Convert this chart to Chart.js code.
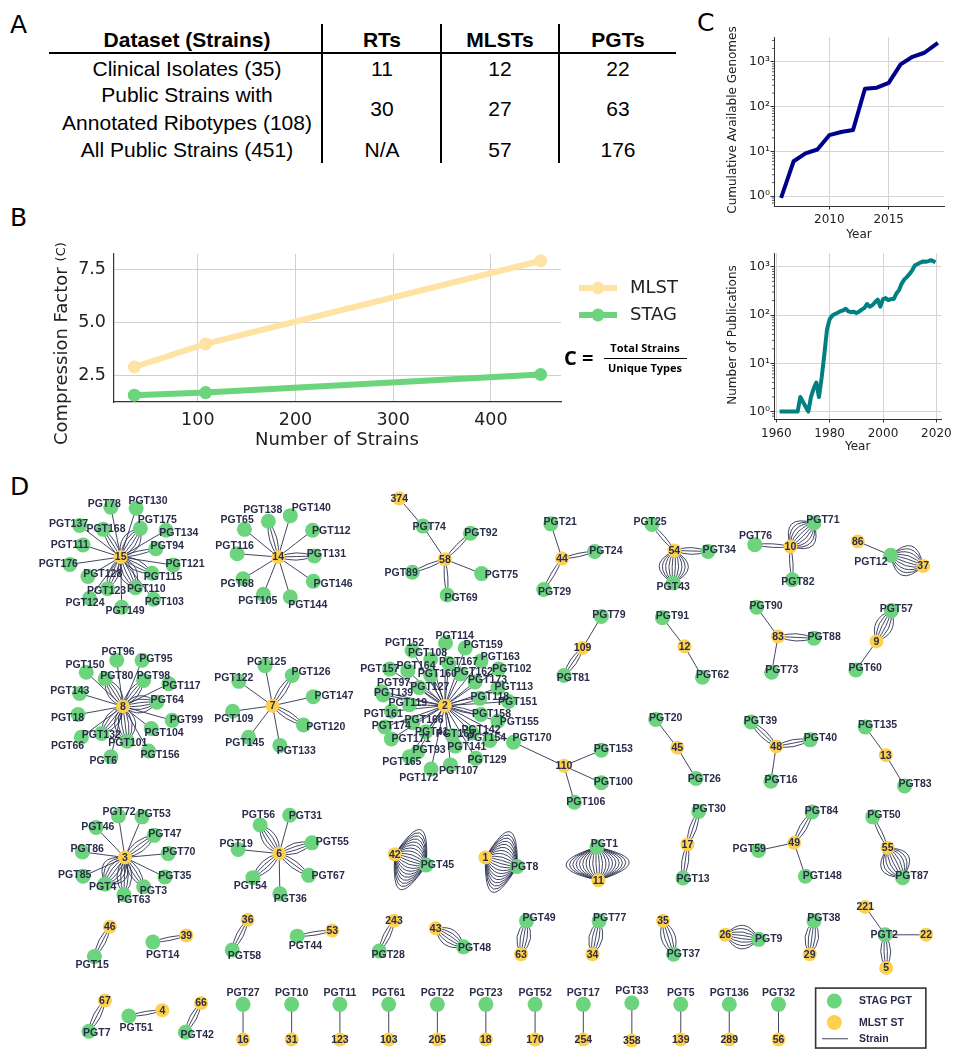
<!DOCTYPE html>
<html>
<head>
<meta charset="utf-8">
<title>Strain typing summary</title>
<script src="https://cdn.jsdelivr.net/npm/chart.js@4.4.1/dist/chart.umd.min.js"></script>
<style>
  html, body { margin: 0; padding: 0; background: #fff; }
  body { width: 956px; height: 1057px; position: relative; overflow: hidden; font-family: "DejaVu Sans", sans-serif; }
  canvas { position: absolute; }
  .letter { position: absolute; font-family: "DejaVu Sans", sans-serif; font-size: 25px; line-height: 25px; color: #000; }
  .cell { position: absolute; transform: translate(-50%, -50%); font-family: "Liberation Sans", Arial, sans-serif;
          font-size: 21px; line-height: 28px; color: #000; white-space: pre; text-align: center; }
  .hdr { font-weight: bold; }
  .rule { position: absolute; background: #000; }
</style>
</head>
<body>
<div class="letter" style="left:10px;top:12px">A</div>
<div class="letter" style="left:10px;top:205px">B</div>
<div class="letter" style="left:697px;top:10px">C</div>
<div class="letter" style="left:10px;top:474px">D</div>

<canvas id="cB" width="700" height="260" style="left:0px;top:195px"></canvas>
<canvas id="cGen" width="266" height="250" style="left:690px;top:0px"></canvas>
<canvas id="cPub" width="266" height="215" style="left:690px;top:245px"></canvas>
<canvas id="cNet" width="956" height="592" style="left:0px;top:465px"></canvas>

<script>
// ---------------- Panel A / B data: typing summary per dataset ----------------
const tableHeaders  = ['Dataset (Strains)', 'RTs', 'MLSTs', 'PGTs'];
const datasetNames  = ['Clinical Isolates', 'Public Strains with\nAnnotated Ribotypes', 'All Public Strains'];
const strainCounts  = [35, 108, 451];
const rtCounts      = [11, 30, null];
const mlstCounts    = [12, 27, 57];
const pgtCounts     = [22, 63, 176];

// ---------------- Panel C data ----------------
const genomeYears  = [2006, 2007, 2008, 2009, 2010, 2011, 2012, 2013, 2014, 2015, 2016, 2017, 2018, 2019];
const genomeCounts = [1, 6, 9, 11, 23, 27, 30, 250, 265, 340, 880, 1300, 1600, 2500];

const pubYears  = [1962, 1963, 1964, 1965, 1966, 1967, 1968, 1969, 1972, 1973, 1974, 1975, 1976, 1977, 1978, 1979,
                   1980, 1981, 1982, 1983, 1984, 1985, 1986, 1987, 1988, 1989, 1990, 1991, 1992, 1993, 1994, 1995,
                   1996, 1997, 1998, 1999, 2000, 2001, 2002, 2003, 2004, 2005, 2006, 2007, 2008, 2009, 2010, 2011,
                   2012, 2013, 2014, 2015, 2016, 2017, 2018, 2019];
const pubCounts = [1, 1, 1, 1, 1, 1, 1, 2, 1, 2, 3, 4, 2, 5, 15, 50,
                   82, 98, 105, 112, 120, 125, 135, 120, 115, 118, 110, 118, 130, 140, 170, 150,
                   160, 185, 210, 150, 215, 225, 205, 215, 215, 280, 330, 450, 550, 620, 720, 860,
                   1080, 1150, 1230, 1300, 1280, 1320, 1380, 1300];

// tick labels
const bTicksX = [100, 200, 300, 400];
const bTicksY = [2.5, 5.0, 7.5];
const genTicksX = [2010, 2015];
const pubTicksX = [1960, 1980, 2000, 2020];
const logTicks = [1, 10, 100, 1000];

// ---------------- Panel D data: strains linking STAG PGTs to MLST STs ----------------
// [PGT, MLST ST, number of strains]
const strainEdges = [
  ['PGT78','15',1],['PGT130','15',1],['PGT175','15',6],['PGT134','15',1],['PGT94','15',2],['PGT121','15',1],
  ['PGT115','15',4],['PGT103','15',1],['PGT110','15',6],['PGT149','15',1],['PGT123','15',4],['PGT124','15',1],
  ['PGT128','15',1],['PGT176','15',1],['PGT111','15',1],['PGT137','15',1],['PGT168','15',3],
  ['PGT138','14',3],['PGT140','14',1],['PGT65','14',1],['PGT112','14',1],['PGT116','14',1],['PGT131','14',3],
  ['PGT68','14',1],['PGT146','14',1],['PGT105','14',1],['PGT144','14',1],
  ['PGT74','374',1],['PGT74','58',1],['PGT92','58',2],['PGT89','58',2],['PGT75','58',1],['PGT69','58',2],
  ['PGT21','44',1],['PGT24','44',2],['PGT29','44',2],
  ['PGT25','54',2],['PGT34','54',3],['PGT43','54',10],
  ['PGT76','10',2],['PGT71','10',10],['PGT82','10',2],
  ['PGT12','86',1],['PGT12','37',10],
  ['PGT96','8',1],['PGT95','8',1],['PGT150','8',1],['PGT80','8',5],['PGT98','8',4],['PGT117','8',1],
  ['PGT143','8',1],['PGT64','8',6],['PGT18','8',1],['PGT99','8',1],['PGT104','8',1],['PGT132','8',5],
  ['PGT66','8',1],['PGT101','8',7],['PGT156','8',1],['PGT6','8',1],
  ['PGT125','7',1],['PGT126','7',3],['PGT122','7',1],['PGT147','7',1],['PGT109','7',1],['PGT120','7',3],
  ['PGT145','7',1],['PGT133','7',1],
  ['PGT114','2',1],['PGT159','2',1],['PGT152','2',1],['PGT108','2',1],['PGT163','2',1],['PGT167','2',1],
  ['PGT102','2',1],['PGT157','2',1],['PGT164','2',1],['PGT160','2',2],['PGT162','2',1],['PGT173','2',1],
  ['PGT113','2',1],['PGT97','2',1],['PGT127','2',2],['PGT139','2',1],['PGT118','2',2],['PGT151','2',1],
  ['PGT119','2',1],['PGT161','2',1],['PGT158','2',2],['PGT155','2',1],['PGT166','2',1],['PGT174','2',1],
  ['PGT142','2',1],['PGT41','2',1],['PGT169','2',1],['PGT171','2',1],['PGT154','2',1],['PGT93','2',1],
  ['PGT141','2',1],['PGT165','2',1],['PGT129','2',1],['PGT107','2',1],['PGT172','2',1],['PGT170','2',1],
  ['PGT170','110',1],['PGT153','110',1],['PGT100','110',1],['PGT106','110',1],
  ['PGT79','109',1],['PGT81','109',3],
  ['PGT91','12',1],['PGT62','12',1],
  ['PGT90','83',1],['PGT88','83',3],['PGT73','83',1],
  ['PGT57','9',6],['PGT60','9',1],
  ['PGT20','45',1],['PGT26','45',1],
  ['PGT39','48',3],['PGT40','48',3],['PGT16','48',1],
  ['PGT135','13',1],['PGT83','13',1],
  ['PGT72','3',1],['PGT53','3',1],['PGT46','3',1],['PGT47','3',4],['PGT86','3',1],['PGT70','3',1],
  ['PGT85','3',1],['PGT35','3',1],['PGT4','3',9],['PGT3','3',4],['PGT63','3',5],
  ['PGT56','6',5],['PGT31','6',1],['PGT19','6',1],['PGT55','6',4],['PGT67','6',3],['PGT54','6',4],['PGT36','6',1],
  ['PGT45','42',20],['PGT8','1',20],['PGT1','11',20],
  ['PGT30','17',3],['PGT13','17',3],
  ['PGT84','49',3],['PGT59','49',1],['PGT148','49',1],
  ['PGT50','55',2],['PGT87','55',10],
  ['PGT15','46',3],['PGT14','39',2],['PGT58','36',3],['PGT44','53',2],['PGT28','243',3],['PGT48','43',6],
  ['PGT49','63',5],['PGT77','34',5],['PGT37','35',5],['PGT9','26',8],['PGT38','29',5],
  ['PGT2','221',1],['PGT2','22',1],['PGT2','5',4],
  ['PGT7','67',3],['PGT51','4',2],['PGT42','66',3],
  ['PGT27','16',1],['PGT10','31',1],['PGT11','123',1],['PGT61','103',1],['PGT22','205',1],['PGT23','18',1],
  ['PGT52','170',1],['PGT17','254',1],['PGT33','358',1],['PGT5','139',1],['PGT136','289',1],['PGT32','56',1]
];

// Network layout (figure coordinates) for every node, and for each PGT label.
const nodeXY = {
  '15':[115,551.7],'PGT78':[105,500.7],'PGT130':[130.7,501.7],'PGT175':[135,522.3],'PGT134':[161,524.3],
  'PGT94':[150.7,543.3],'PGT121':[168.3,560],'PGT115':[146.7,568.3],'PGT103':[148.3,595],'PGT110':[130,583.3],
  'PGT149':[116,603.3],'PGT123':[101.7,584.3],'PGT124':[83.3,594],'PGT128':[81.7,571.7],'PGT176':[63.3,559.3],
  'PGT111':[76.7,539.3],'PGT137':[73.3,519.3],'PGT168':[97.3,523.3],
  '14':[275,551.7],'PGT138':[265,515],'PGT140':[287.3,509.3],'PGT65':[240.7,523.3],'PGT112':[310,524.3],
  'PGT116':[233.3,548.3],'PGT131':[311.7,550.7],'PGT68':[239.3,574],'PGT146':[310.7,576.7],'PGT105':[260,590],
  'PGT144':[287.3,592.7],
  '58':[444.4,554],'374':[398,491.7],'PGT74':[422,520],'PGT92':[470.3,527.3],'PGT89':[411.3,567.3],
  'PGT75':[481.7,568.7],'PGT69':[446.7,590.7],
  '44':[563.4,553.3],'PGT21':[552,517.7],'PGT24':[596.5,546],'PGT29':[544.8,585],
  '54':[677.5,545],'PGT25':[654.7,518.3],'PGT34':[711.7,546],'PGT43':[676.3,578.3],
  '10':[795.4,541],'PGT76':[759.2,539],'PGT71':[819.3,516.7],'PGT82':[797.3,575],
  'PGT12':[897.3,550],'86':[863.8,535.7],'37':[930.3,561],
  '8':[117.3,705],'PGT96':[111,657.7],'PGT95':[136.7,657.7],'PGT150':[80,670],'PGT80':[99.3,676.7],
  'PGT98':[138.3,678.3],'PGT117':[164,681.7],'PGT143':[73.3,691.7],'PGT64':[151.7,700.7],'PGT18':[71.7,713.3],
  'PGT99':[167.3,719.3],'PGT104':[146,727.7],'PGT132':[95.7,732.7],'PGT66':[75,736.7],'PGT101':[121.7,740.7],
  'PGT156':[143.3,750.7],'PGT6':[105,756.7],
  '7':[269.3,704.3],'PGT125':[261.7,663.3],'PGT126':[289.3,673.3],'PGT122':[235,679.3],'PGT147':[310.7,695],
  'PGT109':[228.7,710],'PGT120':[300.7,724],'PGT145':[245,736.7],'PGT133':[276.7,745],
  '2':[444.3,704.3],'PGT114':[445,640],'PGT159':[465,645],'PGT152':[411,647.7],'PGT108':[430,656.7],
  'PGT163':[481,658.3],'PGT167':[448.3,661],'PGT102':[499,666.7],'PGT157':[388.3,666.7],'PGT164':[406.7,668.3],
  'PGT160':[430,673.3],'PGT162':[460,671.7],'PGT173':[475,680],'PGT113':[498.3,686],'PGT97':[380,690],
  'PGT127':[418.3,685.7],'PGT139':[381.7,693.3],'PGT118':[480,696.7],'PGT151':[509,700],'PGT119':[408.3,703.3],
  'PGT161':[390,710],'PGT158':[481,713.3],'PGT155':[498.3,720],'PGT166':[411.7,721.7],'PGT174':[383.3,726],
  'PGT142':[471.7,732.3],'PGT41':[425,731],'PGT169':[452,735],'PGT171':[390,738.3],'PGT154':[490,740],
  'PGT93':[416.7,751.7],'PGT141':[455,745.7],'PGT165':[408.3,756.7],'PGT129':[475.7,758.3],'PGT107':[450,765],
  'PGT172':[430.3,769.3],'PGT170':[514,741.7],
  '110':[565.3,766],'PGT153':[603.3,750],'PGT100':[603.3,783.3],'PGT106':[576,803.3],
  '109':[584.3,645],'PGT79':[603.3,612.7],'PGT81':[565.3,673.3],
  '12':[687.8,643.3],'PGT91':[665.3,614],'PGT62':[706,675],
  '83':[782.8,633.3],'PGT90':[761.1,603.3],'PGT88':[819.3,635],'PGT73':[776.3,670],
  '9':[882.8,638.3],'PGT57':[898,606.7],'PGT60':[861.9,667.7],
  '45':[680.5,747.3],'PGT20':[658.5,718.3],'PGT26':[699.5,779],
  '48':[780.9,746],'PGT39':[755.4,721],'PGT40':[815.5,739.3],'PGT16':[775.6,781.7],
  '13':[892.3,755],'PGT135':[871.4,726],'PGT83':[911.3,786.7],
  '3':[119.3,860],'PGT72':[112.7,817.3],'PGT53':[136.7,818.3],'PGT46':[90,829.3],'PGT47':[149,837.3],
  'PGT86':[76,854.3],'PGT70':[163.3,856],'PGT85':[76.7,879.3],'PGT35':[160,880],'PGT4':[99,887.3],
  'PGT3':[138.3,890],'PGT63':[118.3,898.3],
  '6':[276,856],'PGT56':[256.7,826.7],'PGT31':[286.7,816.7],'PGT19':[234.3,851.7],'PGT55':[309.3,845],
  'PGT67':[306,878.3],'PGT54':[249.3,880.7],'PGT36':[276.7,897.3],
  '42':[393.5,856.7],'PGT45':[425.4,867.7],'1':[485.5,860],'PGT8':[517.8,869.3],
  'PGT1':[598.8,849.3],'11':[600.3,883.3],
  '17':[690.8,846.7],'PGT30':[702.2,812.7],'PGT13':[686.2,881],
  '49':[799.2,845],'PGT84':[817.4,813.3],'PGT59':[763,852.7],'PGT148':[810.6,879.3],
  '55':[894.2,850],'PGT50':[879,818.3],'PGT87':[909.4,880.7],
  '46':[104,931],'PGT15':[88.3,961.7],'PGT14':[147.7,946.7],'39':[181.7,940],
  '36':[244,924],'PGT58':[228.3,955],'PGT44':[294.3,940.7],'53':[330,935],
  '243':[392.7,925],'PGT28':[377.7,956],'43':[435,932.7],'PGT48':[463.3,951.7],
  'PGT49':[527.3,925],'63':[521.7,959.3],'PGT77':[601,925],'34':[594.3,959.3],
  '35':[666,925],'PGT37':[676.7,959.3],'26':[729.3,939.3],'PGT9':[763.3,944],
  'PGT38':[819.3,925],'29':[815,959.3],
  'PGT2':[891.7,939.3],'221':[871.4,910.7],'22':[933.3,939.3],'5':[892.7,973.3],
  '67':[99,1006.7],'PGT7':[82.7,1038.3],'PGT51':[123.3,1022.7],'4':[157.3,1016.7],
  '66':[196.7,1009.3],'PGT42':[180.7,1039.3],
  'PGT27':[239.3,1010.7],'16':[239.3,1046.7],'PGT10':[288.7,1010.7],'31':[288.7,1046.7],
  'PGT11':[337.7,1010.7],'123':[337.7,1046.7],'PGT61':[387.3,1010.7],'103':[387.3,1046.7],
  'PGT22':[436.7,1010.7],'205':[436.7,1046.7],'PGT23':[486,1010.7],'18':[486,1046.7],
  'PGT52':[536,1010.7],'170':[536,1046.7],'PGT17':[585,1010.7],'254':[585,1046.7],
  'PGT33':[634.3,1009.3],'358':[634.3,1047.7],'PGT5':[684,1010.7],'139':[684,1046.7],
  'PGT136':[733.3,1010.7],'289':[733.3,1046.7],'PGT32':[783.3,1010.7],'56':[783.3,1046.7]
};
const labelXY = {
  'PGT78':[98.3,497.7],'PGT130':[142.7,494],'PGT175':[152.3,514.3],'PGT134':[174,527.3],'PGT94':[162.3,541],
  'PGT121':[180.3,559.3],'PGT115':[158,572.7],'PGT103':[159.3,597.7],'PGT110':[141,585],'PGT149':[119.3,607.7],
  'PGT123':[100.7,586.7],'PGT124':[78.7,599.3],'PGT128':[96.7,569.3],'PGT176':[51.7,558.7],'PGT111':[63.3,540],
  'PGT137':[62,518.3],'PGT168':[100,523.3],
  'PGT138':[259.3,503.3],'PGT140':[308.7,501.7],'PGT65':[233.3,514.3],'PGT112':[329,525],'PGT116':[230.7,540.7],
  'PGT131':[324,549],'PGT68':[233.3,579],'PGT146':[330.7,579],'PGT105':[254.3,596.7],'PGT144':[305,601],
  'PGT74':[428.4,520.7],'PGT92':[480.9,527.3],'PGT89':[399.9,568.7],'PGT75':[501.8,570.7],'PGT69':[460.8,594],
  'PGT21':[561.5,515.7],'PGT24':[607.9,545.7],'PGT29':[555.8,587.3],
  'PGT25':[652.8,515.7],'PGT34':[723.1,545],'PGT43':[676.3,582.3],
  'PGT76':[760,530],'PGT71':[828.4,514.3],'PGT82':[803,577.7],'PGT12':[877.1,556.7],
  'PGT96':[112.3,649],'PGT95':[150.7,656],'PGT150':[78.7,662.7],'PGT80':[111,674],'PGT98':[148.3,674],
  'PGT117':[176.7,684],'PGT143':[63.3,689.3],'PGT64':[162.3,699],'PGT18':[61,717.3],'PGT99':[181.7,719],
  'PGT104':[159,732],'PGT132':[95.3,734],'PGT66':[61,745.3],'PGT101':[122.3,742.3],'PGT156':[155,755.3],
  'PGT6':[97.3,760.7],
  'PGT125':[263.3,659.3],'PGT126':[308.3,670],'PGT122':[230,675.7],'PGT147':[331.7,694],'PGT109':[230,718.3],
  'PGT120':[323.3,726.7],'PGT145':[241,742.3],'PGT133':[293.3,750.7],
  'PGT114':[454.3,633.3],'PGT159':[483.3,642.3],'PGT152':[403.3,640],'PGT108':[426.7,650],'PGT163':[500.7,654],
  'PGT167':[458.3,660],'PGT102':[512.3,666.7],'PGT157':[378.3,666.7],'PGT164':[415,663.3],'PGT160':[436.7,671.7],
  'PGT162':[473.3,669.3],'PGT173':[487.7,678.3],'PGT113':[514.3,685],'PGT97':[392.3,680.7],'PGT127':[429,685],
  'PGT139':[392.3,691],'PGT118':[490,695.7],'PGT151':[518.3,700.7],'PGT119':[406.7,701.7],'PGT161':[381.7,712.7],
  'PGT158':[491.7,713.3],'PGT155':[520,721],'PGT166':[423.3,719.3],'PGT174':[390,725.7],'PGT142':[481,729],
  'PGT41':[431,731],'PGT169':[455,733.3],'PGT171':[410,738.3],'PGT154':[486.7,737.3],'PGT93':[428.3,750],
  'PGT141':[466.7,746.7],'PGT165':[400.7,761.7],'PGT129':[487.3,760],'PGT107':[458.3,771],'PGT172':[417.8,778.3],
  'PGT170':[533,737.7],
  'PGT153':[615.5,748.3],'PGT100':[615.5,782.7],'PGT106':[587.4,803.3],
  'PGT79':[611,611],'PGT81':[574.8,676],'PGT91':[675.6,612.7],'PGT62':[716.3,672.7],
  'PGT90':[770.6,601.7],'PGT88':[829.6,634],'PGT73':[786.6,667.7],'PGT57':[903,605.3],'PGT60':[871.4,666],
  'PGT20':[668.7,716.7],'PGT26':[707.9,779.3],'PGT39':[765,720],'PGT40':[825.8,737.7],'PGT16':[785.9,781],
  'PGT135':[884,724.3],'PGT83':[922,784.3],
  'PGT72':[113.3,813.3],'PGT53':[149,815.7],'PGT46':[91.7,829],'PGT47':[160,835.7],'PGT86':[81,851],
  'PGT70':[174,854],'PGT85':[68.3,877.7],'PGT35':[170,879.3],'PGT4':[96.7,890.7],'PGT3':[148.3,894.3],
  'PGT63':[128.3,904],
  'PGT56':[255,816.7],'PGT31':[302.7,817.7],'PGT19':[232.3,846],'PGT55':[330,844],'PGT67':[325.7,879.3],
  'PGT54':[246.7,889.3],'PGT36':[287.3,902.3],
  'PGT45':[436.8,867.7],'PGT8':[525.4,870],'PGT1':[606.4,846],
  'PGT30':[712.9,810.7],'PGT13':[696.5,881.7],'PGT84':[826.9,812.7],'PGT59':[753.5,851.7],'PGT148':[827.7,879.3],
  'PGT50':[890.4,816.7],'PGT87':[918.9,879],
  'PGT15':[86,970],'PGT14':[157.7,960],'PGT58':[240.7,960.7],'PGT44':[302.7,950.7],'PGT28':[386.7,960],
  'PGT48':[474.5,952.7],'PGT49':[540,922.7],'PGT77':[611.7,922.7],'PGT37':[686.7,959.3],'PGT9':[773.3,944],
  'PGT38':[829.3,922.7],'PGT2':[890.7,940],
  'PGT7':[90.7,1040],'PGT51':[130.7,1035.3],'PGT42':[192.7,1042],
  'PGT27':[239.3,998.7],'PGT10':[288.7,998.7],'PGT11':[337.7,998.7],'PGT61':[387.3,998.7],'PGT22':[436.7,998.7],
  'PGT23':[486,998.7],'PGT52':[536,998.7],'PGT17':[585,998.7],'PGT33':[634.3,997.3],'PGT5':[684,998.7],
  'PGT136':[733.3,998.7],'PGT32':[783.3,998.7]
};

// ---------------- Panel A: table ----------------
(function drawTable() {
  const colX = [187, 382, 500, 618];
  const headerY = 40, rowY = [69, 109, 150];
  const addCell = (text, x, y, bold) => {
    const d = document.createElement('div');
    d.className = 'cell' + (bold ? ' hdr' : '');
    d.textContent = text;
    d.style.left = x + 'px';
    d.style.top = y + 'px';
    document.body.appendChild(d);
  };
  tableHeaders.forEach((h, i) => addCell(h, colX[i], headerY, true));
  datasetNames.forEach((name, r) => {
    addCell(name + ' (' + strainCounts[r] + ')', colX[0], rowY[r], false);
    addCell(rtCounts[r] == null ? 'N/A' : String(rtCounts[r]), colX[1], rowY[r], false);
    addCell(String(mlstCounts[r]), colX[2], rowY[r], false);
    addCell(String(pgtCounts[r]), colX[3], rowY[r], false);
  });
  const rule = (l, t, w, h) => {
    const d = document.createElement('div');
    d.className = 'rule';
    Object.assign(d.style, { left: l + 'px', top: t + 'px', width: w + 'px', height: h + 'px' });
    document.body.appendChild(d);
  };
  rule(49, 52, 627, 2);
  [321, 440, 558].forEach(x => rule(x, 24, 2, 139));
})();

Chart.defaults.font.family = '"DejaVu Sans", sans-serif';
Chart.defaults.color = '#222';

// ---------------- Panel B: compression factor ----------------
const MLST_COLOR = '#fee3a5';
const STAG_COLOR = '#6bd47c';
const B_TOP = 195;
const bDecor = {
  id: 'bDecor',
  afterDraw(chart) {
    const ctx = chart.ctx;
    ctx.save();
    ctx.fillStyle = '#222';
    // y-axis title with the smaller "(C)"
    ctx.translate(62, 445 - B_TOP);
    ctx.rotate(-Math.PI / 2);
    ctx.textBaseline = 'middle';
    ctx.textAlign = 'left';
    ctx.font = '18px "DejaVu Sans"';
    const main = 'Compression Factor';
    ctx.fillText(main, 0, 0);
    const w = ctx.measureText(main).width;
    ctx.font = '13px "DejaVu Sans"';
    ctx.fillText('(C)', w + 6, 0);
    ctx.restore();

    ctx.save();
    ctx.fillStyle = '#222';
    ctx.font = '18px "DejaVu Sans"';
    ctx.textAlign = 'center';
    ctx.textBaseline = 'middle';
    ctx.fillText('Number of Strains', 337, 440 - B_TOP);

    // legend
    const items = [['MLST', MLST_COLOR, 288], ['STAG', STAG_COLOR, 315]];
    items.forEach(([lab, col, y]) => {
      const yy = y - B_TOP;
      ctx.strokeStyle = col; ctx.lineWidth = 6; ctx.lineCap = 'butt';
      ctx.beginPath(); ctx.moveTo(579, yy); ctx.lineTo(617, yy); ctx.stroke();
      ctx.fillStyle = col;
      ctx.beginPath(); ctx.arc(598, yy, 6.5, 0, Math.PI * 2); ctx.fill();
      ctx.fillStyle = '#222';
      ctx.textAlign = 'left';
      ctx.font = '18px "DejaVu Sans"';
      ctx.fillText(lab, 630, yy);
    });

    // definition of C
    ctx.fillStyle = '#000';
    ctx.font = 'bold 20px "Open Sans"';
    ctx.textAlign = 'left';
    ctx.fillText('C =', 564, 359 - B_TOP);
    ctx.font = 'bold 11px "Open Sans"';
    ctx.textAlign = 'center';
    ctx.fillText('Total Strains', 645, 349 - B_TOP);
    ctx.fillText('Unique Types', 645, 369 - B_TOP);
    ctx.strokeStyle = '#000'; ctx.lineWidth = 1;
    ctx.beginPath(); ctx.moveTo(604, 358.5 - B_TOP); ctx.lineTo(687, 358.5 - B_TOP); ctx.stroke();
    ctx.restore();
  }
};

new Chart(document.getElementById('cB'), {
  type: 'line',
  data: {
    datasets: [
      { label: 'MLST', data: strainCounts.map((n, i) => ({ x: n, y: n / mlstCounts[i] })),
        borderColor: MLST_COLOR, backgroundColor: MLST_COLOR, borderWidth: 6, pointRadius: 6.5,
        pointBorderWidth: 0, pointHoverRadius: 6.5, tension: 0 },
      { label: 'STAG', data: strainCounts.map((n, i) => ({ x: n, y: n / pgtCounts[i] })),
        borderColor: STAG_COLOR, backgroundColor: STAG_COLOR, borderWidth: 6, pointRadius: 6.5,
        pointBorderWidth: 0, pointHoverRadius: 6.5, tension: 0 }
    ]
  },
  options: {
    responsive: false, animation: false, events: [],
    layout: { padding: { left: 0, top: 59, right: 139, bottom: 0 } },
    plugins: { legend: { display: false }, tooltip: { enabled: false } },
    scales: {
      x: {
        type: 'linear', min: 14.2, max: 471.8,
        afterBuildTicks: s => { s.ticks = bTicksX.map(v => ({ value: v })); },
        afterFit: s => { s.height = 53; },
        grid: { color: '#d0d0d0', lineWidth: 1, drawTicks: false },
        border: { color: '#333', width: 1.2 },
        ticks: { font: { size: 17.5 }, color: '#222', padding: 8, maxRotation: 0 }
      },
      y: {
        type: 'linear', min: 1.27, max: 8.23,
        afterBuildTicks: s => { s.ticks = bTicksY.map(v => ({ value: v })); },
        afterFit: s => { s.width = 114; },
        grid: { color: '#d0d0d0', lineWidth: 1, drawTicks: false },
        border: { color: '#333', width: 1.2 },
        ticks: { font: { size: 17.5 }, color: '#222', padding: 8, callback: v => Number(v).toFixed(1) }
      }
    }
  },
  plugins: [bDecor]
});

// ---------------- Panel C: growth over time (log scale) ----------------
const SUP = { 0: '\u2070', 1: '\u00B9', 2: '\u00B2', 3: '\u00B3' };
function logLabel(v) { return '10' + SUP[Math.round(Math.log10(v))]; }

function timeChart(id, cfg) {
  const decor = {
    id: 'decor_' + id,
    afterDraw(chart) {
      const { ctx, chartArea: a, scales: { y } } = chart;
      ctx.save();
      // minor ticks on the log axis
      ctx.strokeStyle = '#333'; ctx.lineWidth = 0.8;
      for (let k = -1; k <= 4; k++) {
        for (let m = 2; m <= 9; m++) {
          const v = m * Math.pow(10, k);
          if (v < cfg.yMin || v > cfg.yMax) continue;
          const py = y.getPixelForValue(v);
          ctx.beginPath(); ctx.moveTo(a.left - 2, py); ctx.lineTo(a.left, py); ctx.stroke();
        }
      }
      ctx.fillStyle = '#222';
      ctx.font = '12px "DejaVu Sans"';
      ctx.textAlign = 'center';
      ctx.textBaseline = 'middle';
      ctx.fillText('Year', (a.left + a.right) / 2, cfg.xTitleY);
      ctx.translate(43, cfg.yTitleY);
      ctx.rotate(-Math.PI / 2);
      ctx.fillText(cfg.yTitle, 0, 0);
      ctx.restore();
    }
  };
  return new Chart(document.getElementById(id), {
    type: 'line',
    data: {
      datasets: [{ data: cfg.years.map((yr, i) => ({ x: yr, y: cfg.values[i] })),
        borderColor: cfg.color, borderWidth: 4, pointRadius: 0, tension: 0,
        borderJoinStyle: 'round', borderCapStyle: 'square' }]
    },
    options: {
      responsive: false, animation: false, events: [],
      layout: { padding: { left: 0, top: cfg.padTop, right: 12, bottom: 0 } },
      plugins: { legend: { display: false }, tooltip: { enabled: false } },
      scales: {
        x: {
          type: 'linear', min: cfg.xMin, max: cfg.xMax,
          afterBuildTicks: s => { s.ticks = cfg.xTicks.map(v => ({ value: v })); },
          afterFit: s => { s.height = cfg.xHeight; },
          grid: { color: '#d4d4d4', lineWidth: 1, drawTicks: true, tickLength: 3.5, tickColor: '#333' },
          border: { color: '#333', width: 1 },
          ticks: { font: { size: 12 }, color: '#222', padding: cfg.xPad, maxRotation: 0, callback: v => String(v) }
        },
        y: {
          type: 'logarithmic', min: cfg.yMin, max: cfg.yMax,
          afterBuildTicks: s => { s.ticks = logTicks.map(v => ({ value: v })); },
          afterFit: s => { s.width = 84; },
          grid: { color: '#d4d4d4', lineWidth: 1, drawTicks: true, tickLength: 3.5, tickColor: '#333' },
          border: { color: '#333', width: 1 },
          ticks: { font: { size: 12.5 }, color: '#222', padding: 0.5, callback: v => logLabel(v) }
        }
      }
    },
    plugins: [decor]
  });
}

timeChart('cGen', {
  years: genomeYears, values: genomeCounts, color: '#00008b',
  xMin: 2005.35, xMax: 2019.65, xTicks: genTicksX,
  yMin: Math.pow(10, -0.2), yMax: Math.pow(10, 3.556),
  padTop: 37, xHeight: 44, xPad: 3, xTitleY: 235, yTitleY: 120,
  yTitle: 'Cumulative Available Genomes'
});
timeChart('cPub', {
  years: pubYears, values: pubCounts, color: '#008080',
  xMin: 1959.15, xMax: 2021.85, xTicks: pubTicksX,
  yMin: Math.pow(10, -0.144), yMax: Math.pow(10, 3.288),
  padTop: 7, xHeight: 41, xPad: 4, xTitleY: 447 - 245, yTitleY: 335 - 245,
  yTitle: 'Number of Publications'
});

// ---------------- Panel D: strain network ----------------
const PGT_COLOR = '#6cd47c';
const ST_COLOR = '#fdd14f';
const EDGE_COLOR = '#2c3150';
const TEXT_COLOR = '#2a2d4a';
const ARC_STEP = 0.2;
const NET_FONT = 'bold 10.5px "Liberation Sans", Arial, sans-serif';

const pgtNodes = [...new Set(strainEdges.map(e => e[0]))];
const stNodes = [...new Set(strainEdges.map(e => e[1]))];

const netPlugin = {
  id: 'net',
  beforeDatasetsDraw(chart) {
    const { ctx, scales: { x, y } } = chart;
    ctx.save();
    ctx.strokeStyle = EDGE_COLOR;
    ctx.lineWidth = 0.9;
    for (const [p, s, n] of strainEdges) {
      const x1 = x.getPixelForValue(nodeXY[p][0]), y1 = y.getPixelForValue(nodeXY[p][1]);
      const x2 = x.getPixelForValue(nodeXY[s][0]), y2 = y.getPixelForValue(nodeXY[s][1]);
      const dx = x2 - x1, dy = y2 - y1, mx = (x1 + x2) / 2, my = (y1 + y2) / 2;
      for (let i = 0; i < n; i++) {
        const rad = (i - (n - 1) / 2) * ARC_STEP;
        ctx.beginPath();
        ctx.moveTo(x1, y1);
        ctx.quadraticCurveTo(mx + rad * dy, my - rad * dx, x2, y2);
        ctx.stroke();
      }
    }
    ctx.restore();
  },
  afterDatasetsDraw(chart) {
    const { ctx, scales: { x, y } } = chart;
    ctx.save();
    ctx.fillStyle = TEXT_COLOR;
    ctx.font = NET_FONT;
    ctx.textAlign = 'center';
    ctx.textBaseline = 'middle';
    for (const p of pgtNodes) {
      const [lx, ly] = labelXY[p];
      ctx.fillText(p, x.getPixelForValue(lx), y.getPixelForValue(ly));
    }
    for (const s of stNodes) {
      const [sx, sy] = nodeXY[s];
      ctx.fillText(s, x.getPixelForValue(sx), y.getPixelForValue(sy) + 0.5);
    }
    ctx.restore();
  },
  afterDraw(chart) {
    const { ctx, scales: { x, y } } = chart;
    const X = v => x.getPixelForValue(v), Y = v => y.getPixelForValue(v);
    ctx.save();
    ctx.strokeStyle = '#333';
    ctx.lineWidth = 1.6;
    ctx.strokeRect(X(821), Y(994), X(933) - X(821), Y(1055.5) - Y(994));
    ctx.fillStyle = PGT_COLOR;
    ctx.beginPath(); ctx.arc(X(840), Y(1007.3), 7.5, 0, Math.PI * 2); ctx.fill();
    ctx.fillStyle = ST_COLOR;
    ctx.beginPath(); ctx.arc(X(840), Y(1029.3), 7.5, 0, Math.PI * 2); ctx.fill();
    ctx.strokeStyle = EDGE_COLOR; ctx.lineWidth = 0.9;
    ctx.beginPath(); ctx.moveTo(X(827.5), Y(1046)); ctx.lineTo(X(854), Y(1046)); ctx.stroke();
    ctx.fillStyle = TEXT_COLOR;
    ctx.font = NET_FONT;
    ctx.textAlign = 'left';
    ctx.textBaseline = 'middle';
    ctx.fillText('STAG PGT', X(865), Y(1007.5));
    ctx.fillText('MLST ST', X(865), Y(1029.5));
    ctx.fillText('Strain', X(865), Y(1046));
    ctx.restore();
  }
};

new Chart(document.getElementById('cNet'), {
  type: 'scatter',
  data: {
    datasets: [
      { label: 'STAG PGT', data: pgtNodes.map(p => ({ x: nodeXY[p][0], y: nodeXY[p][1] })),
        backgroundColor: PGT_COLOR, borderWidth: 0, pointRadius: 7.5, pointHoverRadius: 7.5 },
      { label: 'MLST ST', data: stNodes.map(s => ({ x: nodeXY[s][0], y: nodeXY[s][1] })),
        backgroundColor: ST_COLOR, borderWidth: 0, pointRadius: 7, pointHoverRadius: 7 }
    ]
  },
  options: {
    responsive: false, animation: false, events: [],
    layout: { padding: 0 },
    plugins: { legend: { display: false }, tooltip: { enabled: false } },
    scales: {
      x: { type: 'linear', min: 0, max: 956, display: false },
      y: { type: 'linear', min: 465, max: 1057, reverse: true, display: false }
    }
  },
  plugins: [netPlugin]
});
</script>
</body>
</html>
